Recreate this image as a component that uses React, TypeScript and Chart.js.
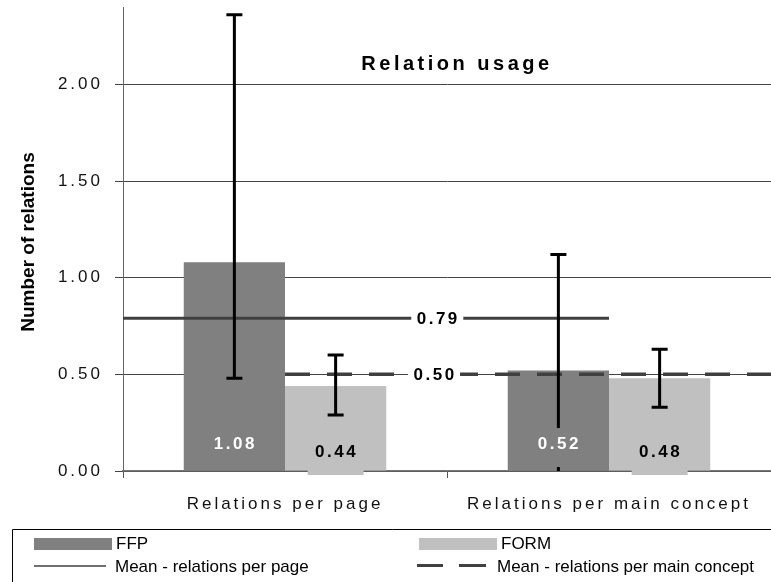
import React, { useEffect, useRef } from 'react';
import { Chart, registerables } from 'chart.js';

Chart.register(...registerables);

// ---- data ----
const categories = ['Relations per page', 'Relations per main concept'];
const ffpValues = [1.08, 0.52];
const formValues = [0.44, 0.48];
const ffpErrLow = [0.48, -0.08];
const ffpErrHigh = [2.36, 1.12];
const formErrLow = [0.29, 0.33];
const formErrHigh = [0.6, 0.63];
const meanPerPage = 0.79;
const meanPerConcept = 0.5;
const meanPageSpan = [-0.5, 1.0]; // in category index units
const meanConceptSpan = [0.0, 1.5];
const meanLabelIndex = [0.47, 0.46];
const yTicks = [0, 0.5, 1.0, 1.5, 2.0];
const chartTitle = 'Relation usage';
const yTitle = 'Number of relations';
const legendItems = ['FFP', 'FORM', 'Mean - relations per page', 'Mean - relations per main concept'];

const FONT = '"Liberation Sans", Arial, sans-serif';
const FFP_COLOR = '#808080';
const FORM_COLOR = '#c0c0c0';
const MEAN_COLOR = '#404040';

const overlayPlugin = {
  id: 'overlay',
  beforeDraw(chart: any) {
    chart.ctx.letterSpacing = '3px';
  },
  beforeDatasetsDraw(chart: any) {
    chart.ctx.letterSpacing = '0px';
  },
  afterDatasetsDraw(chart: any) {
    const { ctx, chartArea } = chart;
    const x = chart.scales.x;
    const y = chart.scales.y;
    const y0 = y.getPixelForValue(0);

    // mean lines
    ctx.save();
    ctx.strokeStyle = MEAN_COLOR;
    ctx.lineCap = 'butt';
    ctx.lineWidth = 3;
    const ySolid = y.getPixelForValue(meanPerPage);
    ctx.beginPath();
    ctx.moveTo(x.getPixelForValue(meanPageSpan[0]), ySolid);
    ctx.lineTo(x.getPixelForValue(meanPageSpan[1]), ySolid);
    ctx.stroke();
    const yDash = y.getPixelForValue(meanPerConcept);
    ctx.setLineDash([25, 17]);
    ctx.lineWidth = 3.5;
    ctx.beginPath();
    ctx.moveTo(x.getPixelForValue(meanConceptSpan[0]), yDash);
    ctx.lineTo(x.getPixelForValue(meanConceptSpan[1]), yDash);
    ctx.stroke();
    ctx.setLineDash([]);
    // mean labels
    ctx.font = 'bold 17px ' + FONT;
    ctx.letterSpacing = '2.5px';
    ctx.textAlign = 'center';
    ctx.textBaseline = 'middle';
    const means = [meanPerPage, meanPerConcept];
    means.forEach((m, i) => {
      const cx = x.getPixelForValue(meanLabelIndex[i]);
      const cy = y.getPixelForValue(m);
      ctx.fillStyle = '#ffffff';
      ctx.fillRect(cx - 26, cy - 10, 52, 20);
      ctx.fillStyle = '#000000';
      ctx.fillText(m.toFixed(2), cx + 1, cy + 1);
    });
    ctx.restore();

    // error bars
    ctx.save();
    ctx.beginPath();
    ctx.rect(chartArea.left, chartArea.top - 5, chartArea.right - chartArea.left, chartArea.bottom - chartArea.top + 5);
    ctx.clip();
    ctx.strokeStyle = '#000000';
    ctx.lineWidth = 3;
    const drawErr = (dsIndex: number, lows: number[], highs: number[]) => {
      const meta = chart.getDatasetMeta(dsIndex);
      meta.data.forEach((bar: any, j: number) => {
        const bx = bar.x;
        const yl = y.getPixelForValue(lows[j]);
        const yh = y.getPixelForValue(highs[j]);
        ctx.beginPath();
        ctx.moveTo(bx, yl);
        ctx.lineTo(bx, yh);
        ctx.moveTo(bx - 8, yh);
        ctx.lineTo(bx + 8, yh);
        ctx.moveTo(bx - 8, yl);
        ctx.lineTo(bx + 8, yl);
        ctx.stroke();
      });
    };
    drawErr(0, ffpErrLow, ffpErrHigh);
    drawErr(1, formErrLow, formErrHigh);
    ctx.restore();

    // value labels
    ctx.save();
    ctx.font = 'bold 17px ' + FONT;
    ctx.letterSpacing = '2.5px';
    ctx.textAlign = 'center';
    ctx.textBaseline = 'middle';
    const ffpMeta = chart.getDatasetMeta(0);
    ffpMeta.data.forEach((bar: any, j: number) => {
      ctx.fillStyle = FFP_COLOR;
      ctx.fillRect(bar.x - 28, y0 - 43, 56, 39);
      ctx.fillStyle = '#ffffff';
      ctx.fillText(ffpValues[j].toFixed(2), bar.x + 1, y0 - 27);
    });
    const formMeta = chart.getDatasetMeta(1);
    formMeta.data.forEach((bar: any, j: number) => {
      ctx.fillStyle = FORM_COLOR;
      ctx.fillRect(bar.x - 28, y0 - 41, 56, 45);
      ctx.fillStyle = '#000000';
      ctx.fillText(formValues[j].toFixed(2), bar.x + 1, y0 - 19);
    });
    ctx.restore();
  },
  afterDraw(chart: any) {
    const { ctx, chartArea } = chart;
    ctx.save();
    // title
    ctx.font = 'bold 20px ' + FONT;
    ctx.letterSpacing = '3.5px';
    ctx.fillStyle = '#000000';
    ctx.textAlign = 'center';
    ctx.textBaseline = 'middle';
    ctx.fillText(chartTitle, 457, 64);

    // y axis title
    ctx.letterSpacing = '0px';
    ctx.font = 'bold 19px ' + FONT;
    ctx.save();
    ctx.translate(29, (chartArea.top + chartArea.bottom) / 2 + 3);
    ctx.rotate(-Math.PI / 2);
    ctx.fillText(yTitle, 0, 0);
    ctx.restore();

    // legend box
    ctx.strokeStyle = '#000000';
    ctx.lineWidth = 1;
    ctx.beginPath();
    ctx.moveTo(12.5, 600);
    ctx.lineTo(12.5, 529.5);
    ctx.lineTo(800, 529.5);
    ctx.stroke();

    ctx.font = '17px ' + FONT;
    ctx.textAlign = 'left';
    ctx.textBaseline = 'middle';
    ctx.fillStyle = FFP_COLOR;
    ctx.fillRect(34, 538, 78, 12);
    ctx.fillStyle = FORM_COLOR;
    ctx.fillRect(419, 538, 78, 12);
    ctx.fillStyle = '#000000';
    ctx.fillText(legendItems[0], 116, 544);
    ctx.fillText(legendItems[1], 501, 544);

    ctx.strokeStyle = MEAN_COLOR;
    ctx.lineWidth = 1.5;
    ctx.beginPath();
    ctx.moveTo(34, 566);
    ctx.lineTo(106, 566);
    ctx.stroke();
    ctx.lineWidth = 3;
    ctx.beginPath();
    ctx.moveTo(417, 565.5);
    ctx.lineTo(443, 565.5);
    ctx.moveTo(459, 565.5);
    ctx.lineTo(486, 565.5);
    ctx.stroke();
    ctx.fillText(legendItems[2], 115, 567);
    ctx.fillText(legendItems[3], 497, 567);
    ctx.restore();
  },
};

export default function App() {
  const canvasRef = useRef<HTMLCanvasElement | null>(null);

  useEffect(() => {
    if (!canvasRef.current) return;
    const chart = new Chart(canvasRef.current, {
      type: 'bar',
      data: {
        labels: categories,
        datasets: [
          {
            label: 'FFP',
            data: ffpValues,
            backgroundColor: FFP_COLOR,
            categoryPercentage: 0.625,
            barPercentage: 1,
          },
          {
            label: 'FORM',
            data: formValues,
            backgroundColor: FORM_COLOR,
            categoryPercentage: 0.625,
            barPercentage: 1,
          },
        ],
      },
      options: {
        animation: false,
        responsive: false,
        maintainAspectRatio: false,
        devicePixelRatio: 1,
        layout: { padding: { left: 0, right: 0, top: 7, bottom: 0 } },
        plugins: {
          legend: { display: false },
          title: { display: false },
          tooltip: { enabled: false },
        },
        scales: {
          x: {
            offset: true,
            grid: { offset: true, drawOnChartArea: false, drawTicks: true, tickLength: 7, color: '#555', lineWidth: 1 },
            border: { color: '#777', width: 1.5 },
            ticks: { font: { family: FONT, size: 17 }, color: '#111', padding: 16, maxRotation: 0 },
            afterFit: (s: any) => {
              s.height = 111;
              s.paddingLeft = 0;
              s.paddingRight = 0;
            },
          },
          y: {
            min: 0,
            max: 2.4,
            grid: { color: '#444', lineWidth: 1, tickLength: 8 },
            border: { color: '#666', width: 1 },
            ticks: {
              font: { family: FONT, size: 17 },
              color: '#111',
              padding: 12,
              callback: (v: any) => Number(v).toFixed(2),
            },
            afterBuildTicks: (s: any) => {
              s.ticks = yTicks.map((v) => ({ value: v }));
            },
            afterFit: (s: any) => {
              s.width = 123;
              s.paddingTop = 0;
              s.paddingBottom = 0;
            },
          },
        },
      },
      plugins: [overlayPlugin],
    } as any);
    return () => chart.destroy();
  }, []);

  return (
    <div style={{ position: 'fixed', left: 0, top: 0, width: 771, height: 582, background: '#ffffff' }}>
      <canvas ref={canvasRef} width={771} height={582} style={{ width: 771, height: 582, display: 'block' }} />
    </div>
  );
}
